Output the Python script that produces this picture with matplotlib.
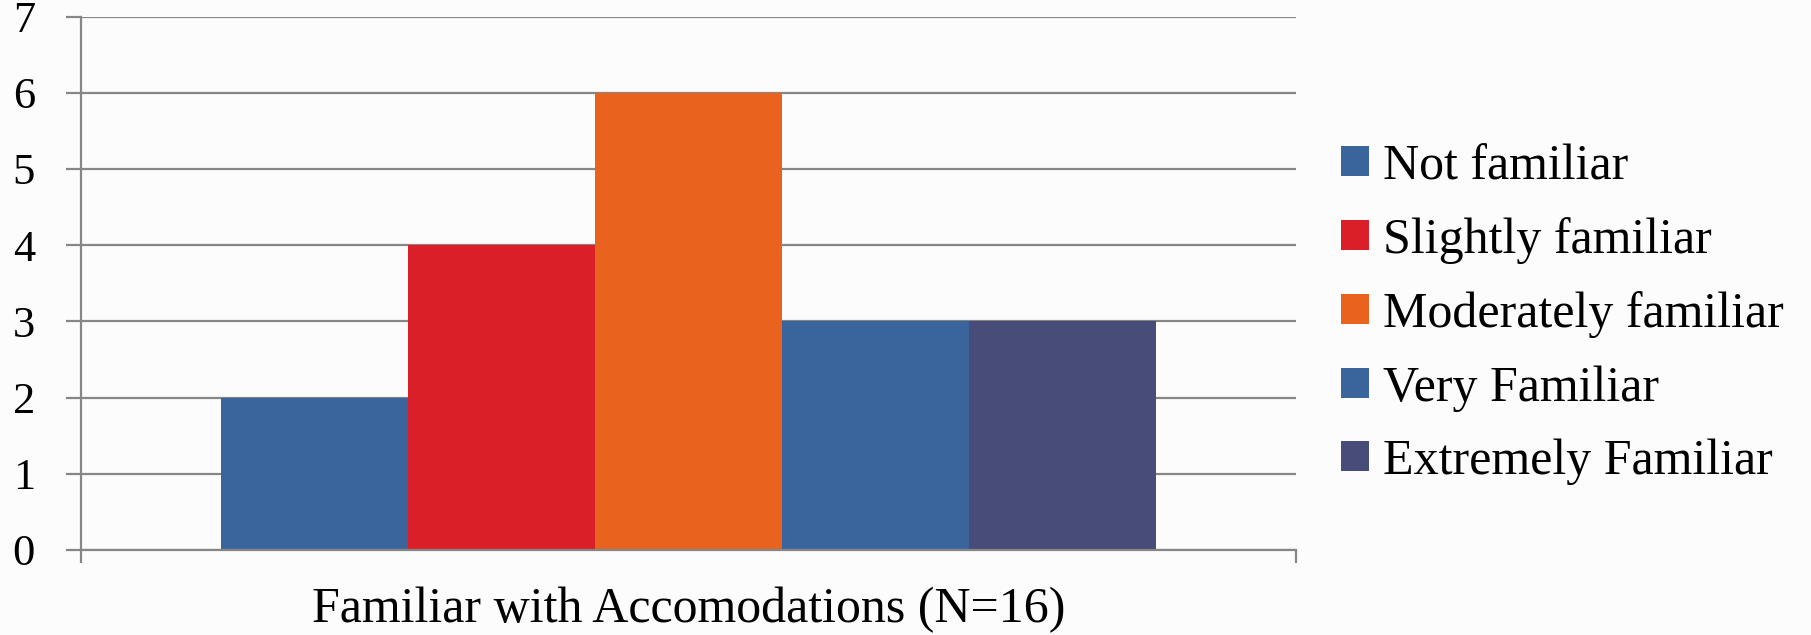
import numpy as np
import matplotlib
matplotlib.use('Agg')
import matplotlib.pyplot as plt

###########################################################################
# Data
###########################################################################
categories = ['Not familiar', 'Slightly familiar', 'Moderately familiar',
              'Very Familiar', 'Extremely Familiar']
counts = [2, 4, 6, 3, 3]
barColors = ['#3A659C', '#DA1F29', '#E9631E', '#3A659C', '#474C78']
yTicks = [0, 1, 2, 3, 4, 5, 6, 7]
xLabel = 'Familiar with Accomodations (N=16)'

###########################################################################
# Figure
###########################################################################
plt.rcParams['font.family'] = ['Liberation Serif', 'DejaVu Serif']
gridColor = '#868686'
bgColor = '#fcfcfc'

fig = plt.figure(figsize=(18.11, 6.35), dpi=100, facecolor=bgColor)
ax = fig.add_axes([0.0447, 0.1339, 0.6709, 0.8400])
ax.set_facecolor(bgColor)

xPos = np.arange(len(categories))
for i in range(len(categories)):
    ax.bar(xPos[i], counts[i], width=1.0, color=barColors[i],
           label=categories[i], zorder=2)

ax.set_xlim(-1.25, len(categories) + 0.25)
ax.set_ylim(0, 7)
ax.set_yticks(yTicks)
ax.set_yticklabels([str(t) for t in yTicks])
ax.yaxis.grid(True, color=gridColor, linewidth=1.6, zorder=1)
ax.set_axisbelow(True)

# category boundary ticks at both ends of the x axis
ax.set_xticks([-1.25, len(categories) + 0.25])
ax.set_xticklabels(['', ''])
ax.tick_params(axis='x', direction='out', length=9, width=1.6, color=gridColor)
ax.tick_params(axis='y', direction='out', length=11, width=1.6, color=gridColor,
               labelsize=32, pad=22)

for side in ['top', 'right']:
    ax.spines[side].set_visible(False)
for side in ['left', 'bottom']:
    ax.spines[side].set_color(gridColor)
    ax.spines[side].set_linewidth(1.6)

ax.set_xlabel(xLabel, fontsize=36, labelpad=14)

fig.legend(loc='center left', bbox_to_anchor=(0.7405, 0.505), frameon=False,
           fontsize=36, handlelength=0.55, handleheight=0.55,
           handletextpad=0.28, labelspacing=0.54, borderpad=0, borderaxespad=0)

fig.savefig('out.png', dpi=100, facecolor=bgColor)
